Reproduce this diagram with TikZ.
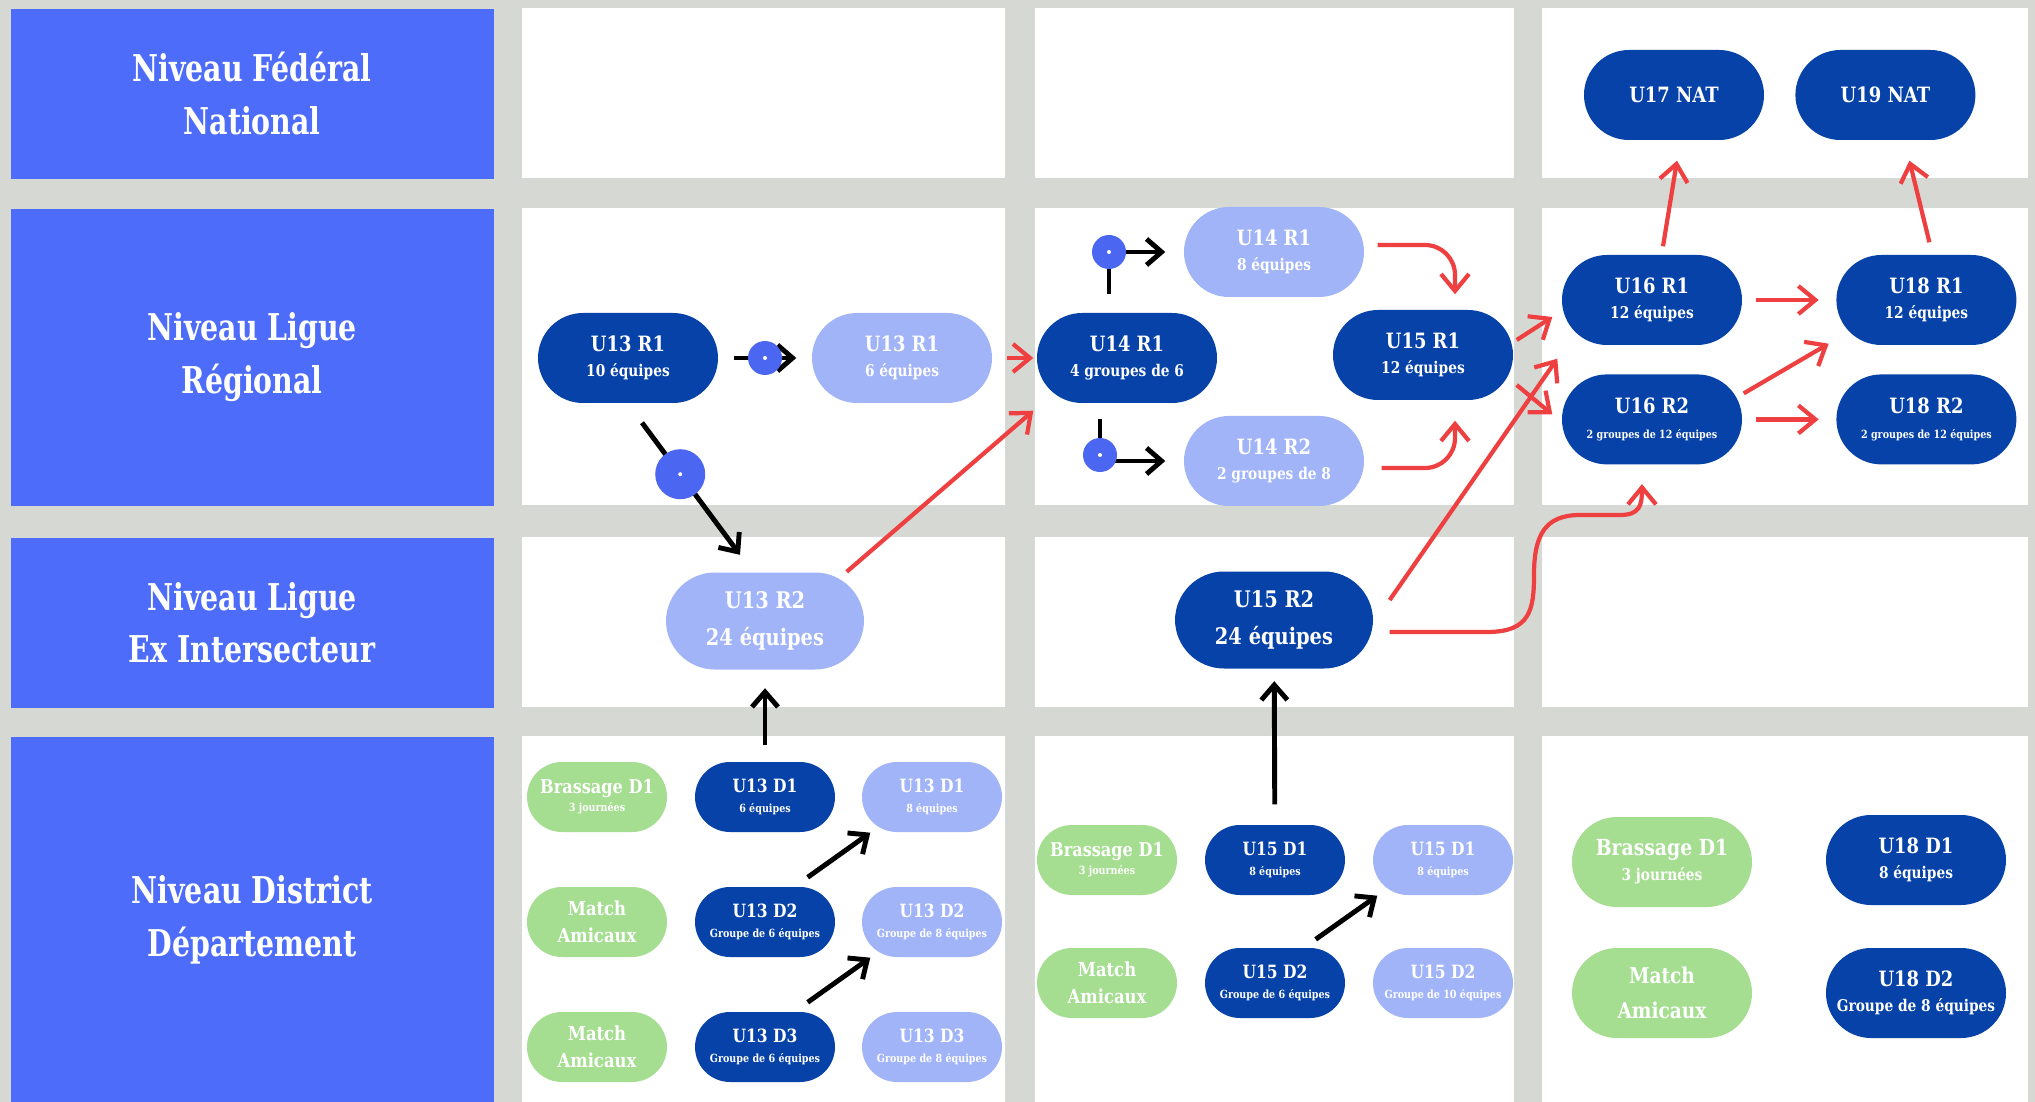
\documentclass[tikz,border=0pt]{standalone}
\usepackage{fontspec}
\setmainfont{DejaVu Serif}[FakeStretch=0.85]
\newfontfamily\titre{DejaVu Serif Bold}[FakeStretch=0.77]
\usetikzlibrary{arrows.meta,positioning,calc}
\definecolor{fond}{RGB}{214,217,211}
\definecolor{lvlblue}{RGB}{77,108,250}
\definecolor{darkblue}{RGB}{6,66,168}
\definecolor{lightblue}{RGB}{162,180,248}
\definecolor{vert}{RGB}{165,222,145}
\definecolor{dotblue}{RGB}{75,102,240}
\definecolor{rouge}{RGB}{238,64,64}
\newcommand{\sous}[1]{{\fontsize{4.6}{5.6}\selectfont #1}}
\newcommand{\menu}[1]{{\fontsize{3.2}{4}\selectfont #1}}
\tikzset{
  lvl/.style={fill=lvlblue, text=white, align=center, anchor=north west, inner sep=0pt, minimum width=48.3mm, font=\titre\fontsize{10.5}{15}\selectfont},
  pill/.style={rounded corners=4.5mm, minimum width=18mm, minimum height=9mm, inner sep=0pt, align=center, text=white, font=\bfseries\fontsize{6}{7.2}\selectfont},
  dark/.style={pill, fill=darkblue},
  light/.style={pill, fill=lightblue},
  big/.style={rounded corners=4.9mm, minimum width=19.8mm, minimum height=9.7mm, font=\bfseries\fontsize{6.5}{10.5}\selectfont},
  small/.style={rounded corners=3.5mm, minimum width=14mm, minimum height=7mm, font=\bfseries\fontsize{5.2}{5.7}\selectfont},
  amical/.style={pill, small, fill=vert, font=\bfseries\fontsize{5.5}{7.7}\selectfont},
  brassage/.style={pill, small, fill=vert, font=\bfseries\fontsize{5.4}{5.2}\selectfont},
  dot/.style={circle, fill=dotblue, minimum size=3.4mm, inner sep=0pt},
  blk/.style={-{Straight Barb[length=1.5mm,width=2.6mm]}, line width=1.4pt},
  redarrow/.style={-{Straight Barb[length=1.7mm,width=2.8mm]}, line width=1.2pt, draw=rouge}
}
\begin{document}
\begin{tikzpicture}[x=0.1mm, y=-0.1mm]
  \useasboundingbox (0,0) rectangle (2035,1102);
  \fill[fond] (0,0) rectangle (2035,1102);
  % white panels
  \foreach \x/\w in {522/483,1035/479,1542/486}
    \foreach \y/\h in {8/170,208/297,537/170,736/366}
      \fill[white] (\x,\y) rectangle ++(\w,\h);

  % levels
  \node[lvl, minimum height=17mm] (nat) at (10,8) {Niveau Fédéral\\National};
  \node[lvl, minimum height=29.7mm] (reg) at (10,208) {Niveau Ligue\\Régional};
  \node[lvl, minimum height=17mm] (inter) at (10,537) {Niveau Ligue\\Ex Intersecteur};
  \node[lvl, minimum height=36.6mm] (dist) at (10,736) {Niveau District\\Département};

  % national
  \node[dark] (u17) at (1674,95) {U17 NAT};
  \node[dark, right=3mm of u17] (u19) {U19 NAT};

  % regional
  \node[dark] (u13ra) at (628,358) {U13 R1\\\sous{10 équipes}};
  \node[light] (u13rb) at (902,358) {U13 R1\\\sous{6 équipes}};
  \node[dark] (u14ra) at (1127,358) {U14 R1\\\sous{4 groupes de 6}};
  \node[light] (u14rb) at (1274,252) {U14 R1\\\sous{8 équipes}};
  \node[light] (u14rc) at (1274,461) {U14 R2\\\sous{2 groupes de 8}};
  \node[dark] (u15ra) at (1423,355) {U15 R1\\\sous{12 équipes}};
  \node[dark] (u16ra) at (1652,300) {U16 R1\\\sous{12 équipes}};
  \node[dark, below=2.8mm of u16ra] (u16rb) {U16 R2\\\menu{2 groupes de 12 équipes}};
  \node[dark, right=9.3mm of u16ra] (u18ra) {U18 R1\\\sous{12 équipes}};
  \node[dark, right=9.3mm of u16rb] (u18rb) {U18 R2\\\menu{2 groupes de 12 équipes}};

  % ex intersecteur
  \node[light, big] (u13r2) at (765,621) {U13 R2\\24 équipes};
  \node[dark, big] (u15r2) at (1274,620) {U15 R2\\24 équipes};

  % district
  \node[brassage] (ga1) at (597,797) {Brassage D1\\\menu{3 journées}};
  \node[amical] (ga2) at (597,922) {Match\\Amicaux};
  \node[amical] (ga3) at (597,1047) {Match\\Amicaux};
  \node[dark, small] (u13d1) at (765,797) {U13 D1\\\menu{6 équipes}};
  \node[dark, small] (u13d2) at (765,922) {U13 D2\\\menu{Groupe de 6 équipes}};
  \node[dark, small] (u13d3) at (765,1047) {U13 D3\\\menu{Groupe de 6 équipes}};
  \node[light, small] (u13e1) at (932,797) {U13 D1\\\menu{8 équipes}};
  \node[light, small] (u13e2) at (932,922) {U13 D2\\\menu{Groupe de 8 équipes}};
  \node[light, small] (u13e3) at (932,1047) {U13 D3\\\menu{Groupe de 8 équipes}};

  \node[brassage] (gb1) at (1107,860) {Brassage D1\\\menu{3 journées}};
  \node[amical] (gb2) at (1107,983) {Match\\Amicaux};
  \node[dark, small] (u15d1) at (1275,860) {U15 D1\\\menu{8 équipes}};
  \node[dark, small] (u15d2) at (1275,983) {U15 D2\\\menu{Groupe de 6 équipes}};
  \node[light, small] (u15e1) at (1443,860) {U15 D1\\\menu{8 équipes}};
  \node[light, small] (u15e2) at (1443,983) {U15 D2\\\menu{Groupe de 10 équipes}};

  \node[pill, fill=vert, font=\bfseries\fontsize{6.3}{7.1}\selectfont] (gc1) at (1662,862) {Brassage D1\\\sous{3 journées}};
  \node[pill, fill=vert, font=\bfseries\fontsize{6.2}{10}\selectfont] (gc2) at (1662,993) {Match\\Amicaux};
  \node[dark] (u18d1) at (1916,860) {U18 D1\\\sous{8 équipes}};
  \node[dark] (u18d2) at (1916,993) {U18 D2\\\sous{Groupe de 8 équipes}};

  % black links
  \draw[blk, shorten <=1.5mm, shorten >=1.5mm] (u13ra) -- (u13rb);
  \node[dot] (p1) at ($(u13ra.east)!0.5!(u13rb.west)$) {};
  \coordinate (d1) at ($(u13ra.south)+(14,19)$);
  \coordinate (d2) at ($(u13r2.north)+(-25,-17)$);
  \draw[blk] (d1) -- (d2);
  \node[dot, minimum size=5mm] (p2) at ($(d1)!0.39!(d2)$) {};
  \coordinate (d3) at ($(u14ra.north)+(-18,-18)$);
  \draw[blk, shorten >=1.8mm] (d3) |- (u14rb.west);
  \node[dot] (p3) at (d3 |- u14rb.west) {};
  \coordinate (d4) at ($(u14ra.south)+(-27,15)$);
  \draw[blk, shorten >=1.8mm] (d4) |- (u14rc.west);
  \node[dot] (p4) at ($(d4 |- u14rc.west)+(0,-6)$) {};
  \foreach \p in {p1,p2,p3,p4}
    \fill[white] (\p) circle (2);

  \draw[blk, shorten <=1.6mm, shorten >=1.8mm] (u13d1) -- (u13r2);
  \draw[blk, shorten <=2mm, shorten >=1.2mm] (u15d1) -- (u15r2);
  \coordinate (e1) at ($(u13d2.north east)+(-28,-9)$);
  \coordinate (e2) at ($(u13d3.north east)+(-28,-9)$);
  \coordinate (e3) at ($(u15d2.north east)+(-30,-8)$);
  \draw[blk] (e1) -- ($(u13e1.south west)+(9,0)$);
  \draw[blk] (e2) -- ($(u13e2.south west)+(9,0)$);
  \draw[blk] (e3) -- ($(u15e1.south west)+(5,0)$);

  % red links
  \draw[redarrow, shorten <=1.4mm, shorten >=0.3mm] (u13rb) -- (u14ra);
  \draw[redarrow] ($(u13r2.north east)+(-18,0)$) -- ($(u14ra.south west)+(-3,7)$);
  \draw[redarrow, rounded corners=3mm] ($(u14rb.east)+(13,-7)$) -| ($(u15ra.north)+(32,-15)$);
  \draw[redarrow, rounded corners=3mm] ($(u14rc.east)+(17,7)$) -| ($(u15ra.south)+(32,20)$);
  \draw[redarrow] ($(u15ra.east)+(3,-15)$) -- ($(u16ra.west)+(-9,17)$);
  \draw[redarrow] ($(u15ra.east)+(3,30)$) -- ($(u16rb.west)+(-9,-5)$);
  \draw[redarrow] ($(u15r2.east)+(16,-20)$) -- ($(u16ra.south west)+(-4,13)$);
  \coordinate (s1) at ($(u15r2.east)+(16,12)$);
  \coordinate (s2) at ($(u16rb.south)+(-10,19)$);
  \draw[redarrow] (s1) -- (1487,632) .. controls (1530,632) and (1534,610) .. (1534,575)
    .. controls (1534,535) and (1545,515) .. (1580,515) -- (1620,515)
    .. controls (1640,515) and (1642,505) .. (s2);
  \draw[redarrow] ($(u16ra.north)+(11,-8)$) -- ($(u17.south)+(3,20)$);
  \draw[redarrow] ($(u18ra.north)+(3,-12)$) -- ($(u19.south)+(24,20)$);
  \draw[redarrow, shorten <=1.3mm, shorten >=1.7mm] (u16ra) -- (u18ra);
  \draw[redarrow, shorten <=1.3mm, shorten >=1.7mm] (u16rb) -- (u18rb);
  \draw[redarrow] ($(u16rb.east)+(1,-26)$) -- ($(u18ra.south west)+(-7,-2)$);
\end{tikzpicture}
\end{document}
